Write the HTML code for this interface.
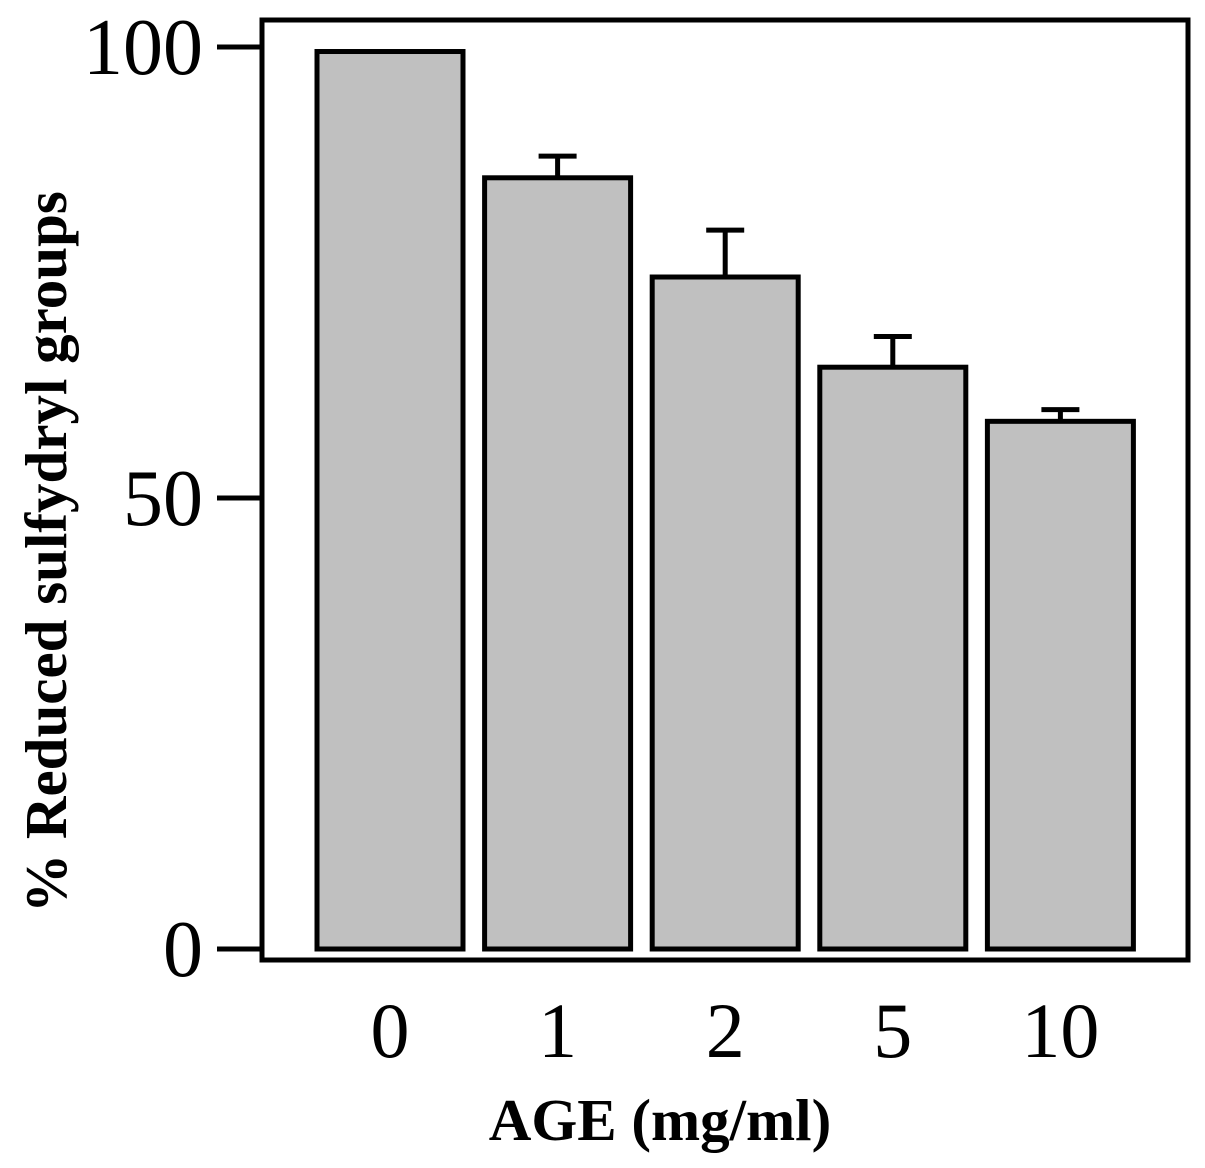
<!DOCTYPE html>
<html><head><meta charset="utf-8"><style>
html,body{margin:0;padding:0;background:#fff;}
svg{display:block;}
text{font-family:"Liberation Serif",serif;fill:#000;}
</style></head><body>
<svg id="chart" width="1205" height="1168" viewBox="0 0 1205 1168">
<rect x="262" y="20" width="926" height="940" fill="none" stroke="#000" stroke-width="5"/>
<g id="bars"></g>
<g id="yaxis"></g>
<g id="xaxis"></g>
<text x="660" y="1140" font-size="59" font-weight="bold" text-anchor="middle">AGE (mg/ml)</text>
<text transform="translate(66,552) rotate(-90)" font-size="59" font-weight="bold" text-anchor="middle">% Reduced sulfydryl groups</text>
</svg>
<script>
const categories = ["0","1","2","5","10"];
const values = [99.5, 85.5, 74.5, 64.5, 58.5];
const errors = [0, 2.4, 5.2, 3.4, 1.3];
const yTicks = [0, 50, 100];
const tickLabels = ["0","50","100"];

const NS = "http://www.w3.org/2000/svg";
function y(v){ return 949 - v * 9.02; }
function xc(i){ return 390 + i * 167.6; }
const bw = 146;
function mk(tag, attrs, parent){
  const e = document.createElementNS(NS, tag);
  for (const k in attrs) e.setAttribute(k, attrs[k]);
  parent.appendChild(e); return e;
}
const bars = document.getElementById("bars");
const yaxis = document.getElementById("yaxis");
const xaxis = document.getElementById("xaxis");
values.forEach((v, i) => {
  const cx = xc(i);
  if (errors[i] > 0) {
    const l = mk("line", {x1: cx, x2: cx, y1: y(v), y2: y(v + errors[i]), stroke: "#000", "stroke-width": 5}, bars);
    
    
    const c = mk("line", {x1: cx - 19, x2: cx + 19, y1: y(v + errors[i]), y2: y(v + errors[i]), stroke: "#000", "stroke-width": 5}, bars);
    
    
  }
  const r = mk("rect", {x: cx - bw / 2, y: y(v), width: bw, height: y(0) - y(v), fill: "#c0c0c0", stroke: "#000", "stroke-width": 5}, bars);
  
  
  const t = mk("text", {x: cx, y: 1057, "font-size": 78, "text-anchor": "middle"}, xaxis);
  t.textContent = categories[i];
  
  
});
yTicks.forEach((v, i) => {
  const tl = mk("line", {x1: 217, x2: 262, y1: y(v), y2: y(v), stroke: "#000", "stroke-width": 5}, yaxis);
  
  
  const t = mk("text", {x: 203, y: y(v) + 27, "font-size": 80, "text-anchor": "end"}, yaxis);
  t.textContent = tickLabels[i];
  
  
});
</script>
</body></html>
